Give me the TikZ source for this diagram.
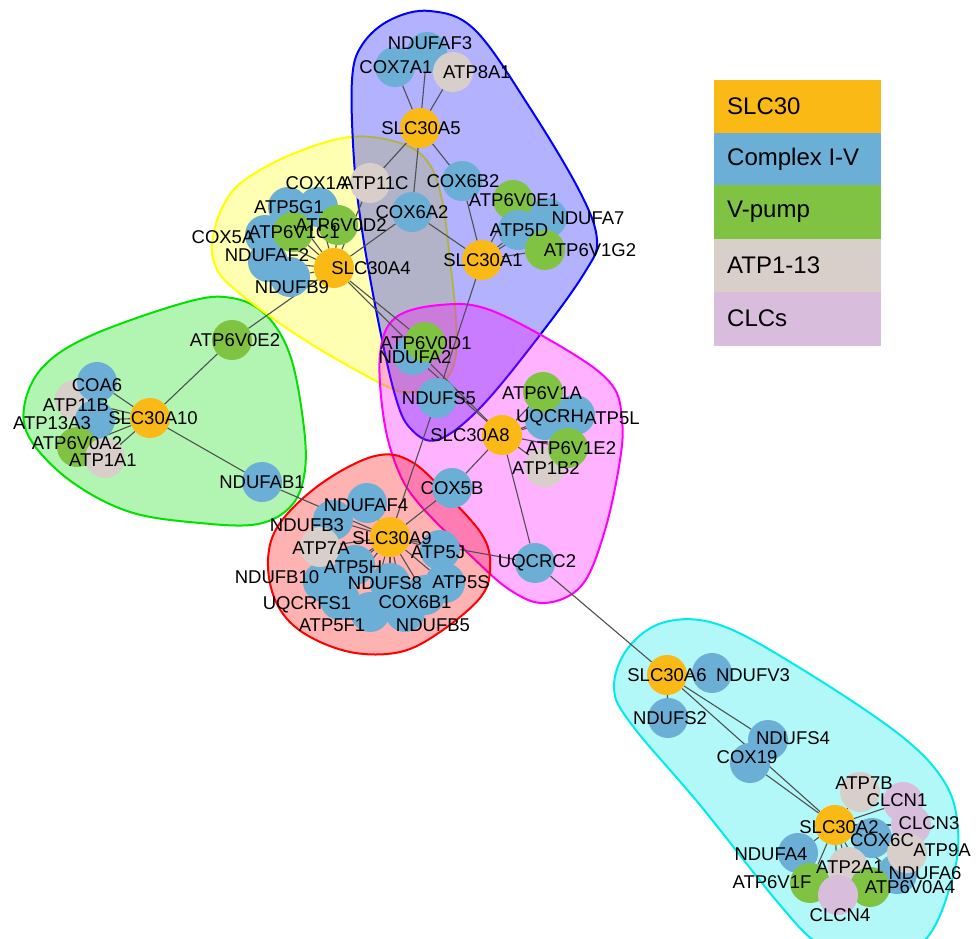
\documentclass[tikz,border=0pt]{standalone}
\usepackage{fontspec}
\setmainfont{Liberation Sans}
\pgfdeclarelayer{bgl}
\pgfdeclarelayer{hull}
\pgfdeclarelayer{edge}
\pgfsetlayers{bgl,hull,edge,main}
\definecolor{cS}{RGB}{251,185,22}
\definecolor{cB}{RGB}{107,174,214}
\definecolor{cG}{RGB}{128,194,66}
\definecolor{cA}{RGB}{216,207,203}
\definecolor{cL}{RGB}{216,189,220}
\definecolor{edgec}{RGB}{80,80,80}
\definecolor{hG}{RGB}{0,225,0}
\definecolor{hY}{RGB}{255,255,0}
\definecolor{hB}{RGB}{0,0,255}
\definecolor{hM}{RGB}{255,0,255}
\definecolor{hR}{RGB}{255,0,0}
\definecolor{hC}{RGB}{0,235,235}
\tikzset{
 gn/.style={circle, fill=#1, minimum size=40pt, inner sep=0pt, draw=none},
 lab/.style={inner sep=0pt, font=\fontsize{18.5}{20}\selectfont, text=black},
 ed/.style={draw=edgec, line width=1.1pt},
 hullst/.style={draw=#1, line width=2pt, fill=#1, fill opacity=0.3},
 legbox/.style={fill=#1, draw=none, minimum width=167pt, inner sep=0pt, anchor=north west},
 legtext/.style={inner sep=0pt, anchor=west, font=\fontsize{24}{26}\selectfont}
}
\newcommand{\GN}[4]{\node[gn=#4] (#1) at (#2,#3) {};}
\newcommand{\GL}[4]{\node[lab] (#1-l) at (#2,#3) {#4};}
\begin{document}
\begin{tikzpicture}[x=1pt,y=-1pt]
\useasboundingbox (0,0) rectangle (978,938);
\clip (0,0) rectangle (978,938);
\begin{pgfonlayer}{bgl}
\fill[white] (0,0) rectangle (978,938);
\end{pgfonlayer}

% ---------- nodes (circles) ----------
% blue cluster
\GN{NDUFAF3}{427}{52}{cB}
\GN{COX7A1}{395}{67}{cB}
\GN{ATP8A1}{453}{72}{cA}
\GN{SLC30A5}{420}{128}{cS}
\GN{ATP11C}{370}{183}{cA}
\GN{COX6B2}{462}{181}{cB}
\GN{COX6A2}{412}{212}{cB}
\GN{NDUFA7}{547}{218}{cB}
\GN{ATP6V0E1}{513}{200}{cG}
\GN{ATP5D}{518}{230}{cB}
\GN{ATP6V1G2}{545}{250}{cG}
\GN{SLC30A1}{482}{260}{cS}
% yellow cluster
\GN{COX1A}{318}{207}{cB}
\GN{ATP5G1}{288}{207}{cB}
\GN{COX5A}{265}{235}{cB}
\GN{NDUFAF2}{268}{262}{cB}
\GN{NDUFB9}{290}{277}{cB}
\GN{ATP6V1C1}{293}{232}{cG}
\GN{ATP6V0D2}{338}{225}{cG}
\GN{SLC30A4}{334}{268}{cS}
% green cluster
\GN{ATP6V0E2}{232}{340}{cG}
\GN{NDUFAB1}{262}{482}{cB}
\GN{ATP11B}{75}{400}{cA}
\GN{COA6}{97}{382}{cB}
\GN{ATP13A3}{95}{420}{cB}
\GN{ATP6V0A2}{77}{447}{cG}
\GN{ATP1A1}{105}{458}{cA}
\GN{SLC30A10}{150}{418}{cS}
% magenta cluster
\GN{NDUFA2}{413}{355}{cB}
\GN{ATP6V0D1}{425}{342}{cG}
\GN{NDUFS5}{437}{398}{cB}
\GN{UQCRH}{545}{420}{cB}
\GN{ATP5L}{575}{415}{cB}
\GN{ATP6V1A}{543}{392}{cG}
\GN{ATP1B2}{545}{467}{cA}
\GN{ATP6V1E2}{568}{448}{cG}
\GN{SLC30A8}{502}{435}{cS}
\GN{COX5B}{452}{488}{cB}
\GN{UQCRC2}{535}{563}{cB}
% red cluster
\GN{NDUFAF4}{367}{503}{cB}
\GN{NDUFB3}{333}{520}{cB}
\GN{NDUFB10}{323}{582}{cB}
\GN{UQCRFS1}{340}{600}{cB}
\GN{ATP5F1}{370}{612}{cB}
\GN{NDUFB5}{405}{612}{cB}
\GN{COX6B1}{425}{595}{cB}
\GN{ATP5S}{445}{583}{cB}
\GN{ATP5J}{440}{550}{cB}
\GN{NDUFS8}{390}{583}{cB}
\GN{ATP5H}{355}{565}{cB}
\GN{ATP7A}{320}{547}{cA}
\GN{SLC30A9}{390}{537}{cS}
% cyan cluster
\GN{SLC30A6}{667}{675}{cS}
\GN{NDUFV3}{712}{673}{cB}
\GN{NDUFS2}{668}{718}{cB}
\GN{NDUFS4}{768}{740}{cB}
\GN{COX19}{750}{763}{cB}
\GN{NDUFA6}{897}{874}{cB}
\GN{COX6C}{872}{838}{cB}
\GN{ATP7B}{860}{792}{cA}
\GN{CLCN1}{903}{802}{cL}
\GN{CLCN3}{911}{825}{cL}
\GN{ATP9A}{907}{853}{cA}
\GN{NDUFA4}{798}{853}{cB}
\GN{ATP2A1}{848}{867}{cA}
\GN{ATP6V1F}{810}{883}{cG}
\GN{ATP6V0A4}{870}{887}{cG}
\GN{CLCN4}{838}{895}{cL}
\GN{SLC30A2}{835}{825}{cS}

% ---------- hulls ----------
\begin{pgfonlayer}{hull}
\draw[hullst=hG] plot[smooth cycle, tension=0.6] coordinates {(42,368) (90,336) (187,302) (232,298) (266,315) (290,355) (303,420) (305,470) (292,505) (258,524) (200,523) (130,512) (72,482) (32,442) (24,408)};
\draw[hullst=hY] plot[smooth cycle, tension=0.6] coordinates {(350,137) (400,143) (428,162) (442,200) (450,260) (456,320) (455,360) (442,382) (410,392) (380,383) (300,337) (232,287) (214,262) (213,238) (222,208) (242,182) (290,155)};
\draw[hullst=hB] plot[smooth cycle, tension=0.6] coordinates {(430,11) (475,30) (530,108) (580,192) (597,240) (585,272) (540,335) (480,408) (437,440) (410,428) (395,395) (378,320) (362,230) (354,160) (352,80) (362,45) (390,20)};
\draw[hullst=hM] plot[smooth cycle, tension=0.6] coordinates {(395,318) (440,305) (490,310) (570,352) (612,385) (622,420) (620,460) (605,530) (582,585) (545,603) (510,590) (470,555) (420,505) (398,470) (384,420) (380,355)};
\draw[hullst=hR] plot[smooth cycle, tension=0.6] coordinates {(375,456) (412,462) (452,500) (484,538) (490,570) (480,598) (440,632) (400,652) (350,652) (302,632) (276,602) (268,560) (280,523) (322,483)};
\draw[hullst=hC] plot[smooth cycle, tension=0.6] coordinates {(665,622) (720,625) (800,668) (900,735) (945,783) (958,830) (952,880) (925,940) (870,965) (820,945) (780,905) (700,805) (632,725) (614,688) (628,648)};
\end{pgfonlayer}

% ---------- edges ----------
\begin{pgfonlayer}{edge}
\foreach \t in {COX7A1,NDUFAF3,ATP8A1,ATP11C,COX6B2,COX6A2} \draw[ed] (SLC30A5) -- (\t);
\foreach \t in {COX6B2,COX6A2,ATP6V0E1,ATP5D,NDUFA7,ATP6V1G2,NDUFS5} \draw[ed] (SLC30A1) -- (\t);
\foreach \t in {COX1A,ATP5G1,COX5A,ATP6V1C1,ATP6V0D2,NDUFAF2,NDUFB9,ATP11C,COX6A2,ATP6V0E2,ATP6V0D1,SLC30A8} \draw[ed] (SLC30A4) -- (\t);
\foreach \t in {ATP6V1A,UQCRH,ATP5L,ATP6V1E2,ATP1B2,COX5B,UQCRC2,NDUFA2} \draw[ed] (SLC30A8) -- (\t);
\foreach \t in {NDUFAF4,NDUFB3,ATP7A,ATP5H,NDUFB10,NDUFS8,ATP5J,ATP5S,COX6B1,UQCRFS1,ATP5F1,NDUFB5,NDUFAB1,COX5B,NDUFS5,UQCRC2} \draw[ed] (SLC30A9) -- (\t);
\foreach \t in {COA6,ATP11B,ATP13A3,ATP6V0A2,ATP1A1,ATP6V0E2,NDUFAB1} \draw[ed] (SLC30A10) -- (\t);
\foreach \t in {NDUFV3,NDUFS2,NDUFS4,SLC30A2,UQCRC2} \draw[ed] (SLC30A6) -- (\t);
\foreach \t in {COX19,ATP7B,CLCN1,CLCN3,COX6C,ATP9A,NDUFA6,NDUFA4,ATP2A1,ATP6V1F,ATP6V0A4,CLCN4} \draw[ed] (SLC30A2) -- (\t);
\end{pgfonlayer}

% ---------- labels ----------
\GL{NDUFAF3}{430}{43}{NDUFAF3}
\GL{COX7A1}{396}{67}{COX7A1}
\GL{ATP8A1}{477}{72}{ATP8A1}
\GL{SLC30A5}{421}{128}{SLC30A5}
\GL{ATP11C}{375}{183}{ATP11C}
\GL{COX6B2}{463}{181}{COX6B2}
\GL{COX6A2}{412}{212}{COX6A2}
\GL{NDUFA7}{588}{218}{NDUFA7}
\GL{ATP6V0E1}{514}{200}{ATP6V0E1}
\GL{ATP5D}{519}{230}{ATP5D}
\GL{ATP6V1G2}{590}{250}{ATP6V1G2}
\GL{SLC30A1}{483}{260}{SLC30A1}
\GL{COX1A}{317}{183}{COX1A}
\GL{ATP5G1}{289}{207}{ATP5G1}
\GL{COX5A}{223}{237}{COX5A}
\GL{NDUFAF2}{267}{255}{NDUFAF2}
\GL{NDUFB9}{292}{287}{NDUFB9}
\GL{ATP6V1C1}{294}{232}{ATP6V1C1}
\GL{ATP6V0D2}{341}{225}{ATP6V0D2}
\GL{SLC30A4}{371}{268}{SLC30A4}
\GL{ATP6V0E2}{235}{340}{ATP6V0E2}
\GL{NDUFAB1}{262}{482}{NDUFAB1}
\GL{COA6}{97}{385}{COA6}
\GL{ATP11B}{76}{405}{ATP11B}
\GL{ATP13A3}{52}{423}{ATP13A3}
\GL{ATP6V0A2}{77}{443}{ATP6V0A2}
\GL{ATP1A1}{103}{460}{ATP1A1}
\GL{SLC30A10}{153}{418}{SLC30A10}
\GL{ATP6V0D1}{426}{343}{ATP6V0D1}
\GL{NDUFA2}{415}{357}{NDUFA2}
\GL{NDUFS5}{439}{398}{NDUFS5}
\GL{SLC30A8}{470}{435}{SLC30A8}
\GL{ATP6V1A}{542}{393}{ATP6V1A}
\GL{UQCRH}{550}{418}{UQCRH}
\GL{ATP5L}{612}{418}{ATP5L}
\GL{ATP6V1E2}{571}{448}{ATP6V1E2}
\GL{ATP1B2}{546}{468}{ATP1B2}
\GL{COX5B}{452}{488}{COX5B}
\GL{UQCRC2}{537}{563}{UQCRC2}
\GL{NDUFAF4}{366}{505}{NDUFAF4}
\GL{NDUFB3}{307}{525}{NDUFB3}
\GL{ATP7A}{321}{548}{ATP7A}
\GL{SLC30A9}{392}{538}{SLC30A9}
\GL{ATP5J}{438}{552}{ATP5J}
\GL{ATP5H}{353}{567}{ATP5H}
\GL{NDUFB10}{277}{577}{NDUFB10}
\GL{NDUFS8}{385}{583}{NDUFS8}
\GL{ATP5S}{461}{582}{ATP5S}
\GL{COX6B1}{415}{602}{COX6B1}
\GL{UQCRFS1}{307}{605}{UQCRFS1}
\GL{ATP5F1}{332}{625}{ATP5F1}
\GL{NDUFB5}{433}{625}{NDUFB5}
\GL{SLC30A6}{667}{675}{SLC30A6}
\GL{NDUFV3}{753}{675}{NDUFV3}
\GL{NDUFS2}{670}{718}{NDUFS2}
\GL{NDUFS4}{793}{738}{NDUFS4}
\GL{COX19}{747}{757}{COX19}
\GL{ATP7B}{864}{783}{ATP7B}
\GL{CLCN1}{897}{800}{CLCN1}
\GL{SLC30A2}{839}{827}{SLC30A2}
\GL{CLCN3}{929}{823}{CLCN3}
\GL{COX6C}{882}{840}{COX6C}
\GL{ATP9A}{942}{850}{ATP9A}
\GL{NDUFA4}{771}{854}{NDUFA4}
\GL{ATP2A1}{850}{867}{ATP2A1}
\GL{NDUFA6}{925}{873}{NDUFA6}
\GL{ATP6V1F}{772}{882}{ATP6V1F}
\GL{ATP6V0A4}{910}{887}{ATP6V0A4}
\GL{CLCN4}{840}{915}{CLCN4}

% ---------- legend ----------
\node[legbox=cS, minimum height=53pt] (lg1) at (714,80) {};
\node[legbox=cB, minimum height=52pt] (lg2) at (714,133) {};
\node[legbox=cG, minimum height=54pt] (lg3) at (714,185) {};
\node[legbox=cA, minimum height=53pt] (lg4) at (714,239) {};
\node[legbox=cL, minimum height=54pt] (lg5) at (714,292) {};
\node[legtext] (lt1) at (727,106) {SLC30};
\node[legtext] (lt2) at (727,159) {Complex I-V};
\node[legtext] (lt3) at (727,212) {V-pump};
\node[legtext] (lt4) at (727,265) {ATP1-13};
\node[legtext] (lt5) at (727,318) {CLCs};
\end{tikzpicture}
\end{document}
